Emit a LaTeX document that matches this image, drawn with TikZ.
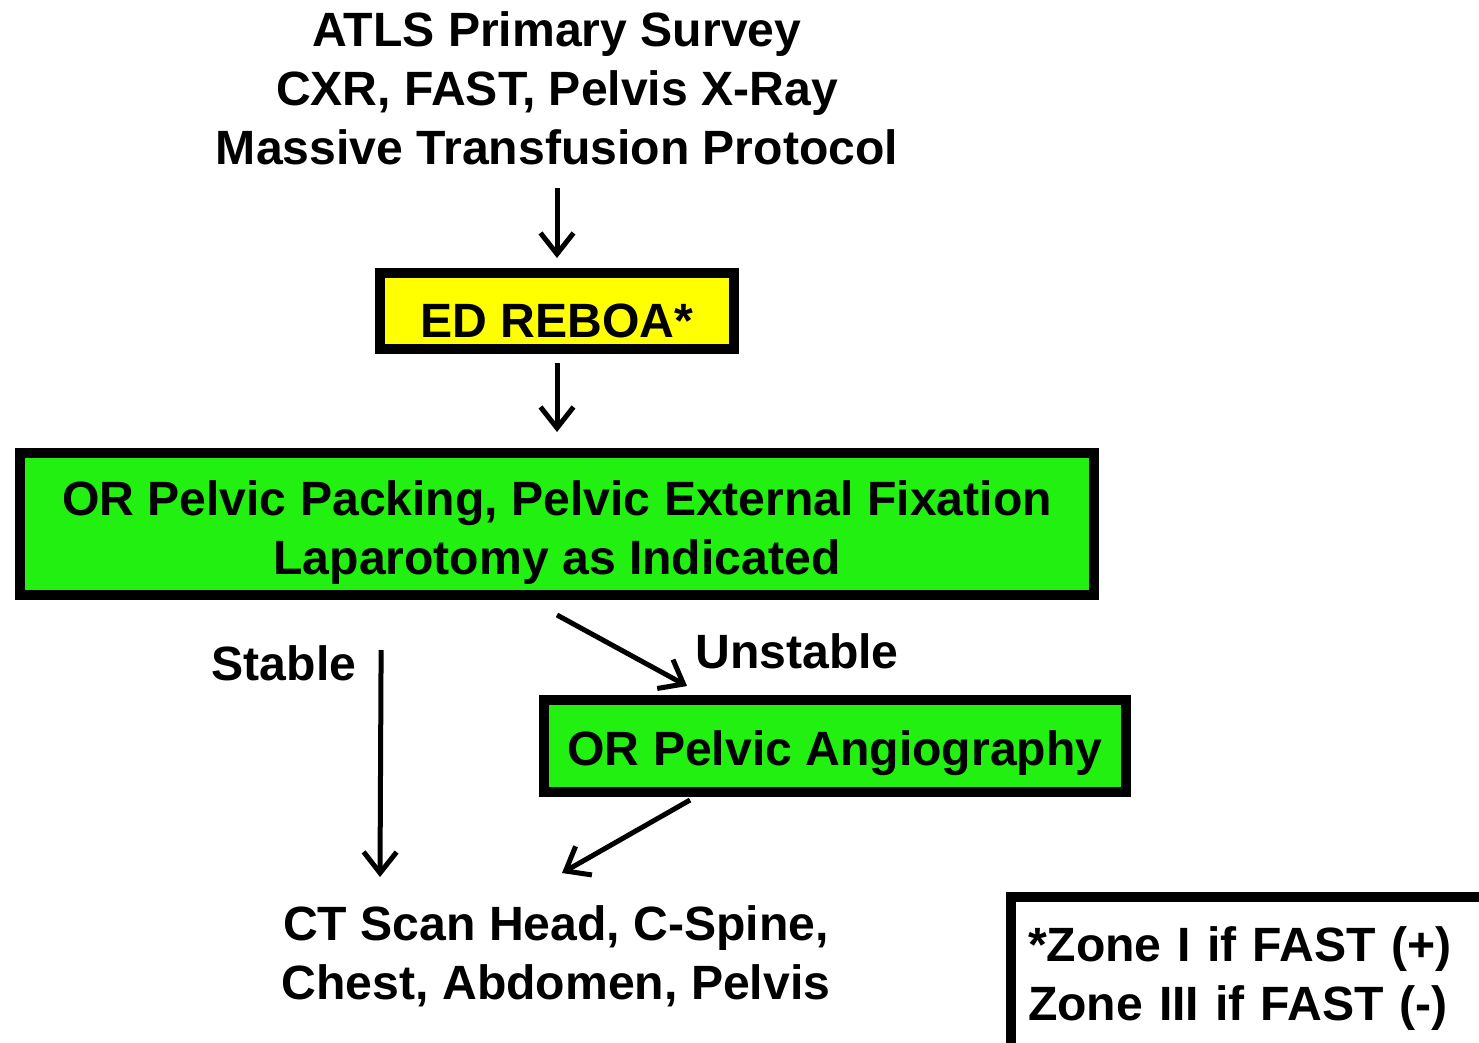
\documentclass[tikz,border=0pt]{standalone}
\usepackage{fontspec}
\setmainfont{Liberation Sans}
\usetikzlibrary{arrows.meta,calc,positioning}
\definecolor{rebyellow}{RGB}{255,255,0}
\definecolor{orgreen}{RGB}{34,240,16}

\begin{document}
\begin{tikzpicture}[%
    x=0.02cm, y=-0.02cm,     % one unit is one pixel, y runs downwards
    >={Straight Barb[length=0.42cm,width=0.66cm]}, % open arrow heads
    ]
% -------------------------------------------------
% Box and line styles
\tikzset{
  base/.style={align=center, font=\fontsize{27.4}{33.5}\selectfont\bfseries},
  box/.style={base, draw, line width=0.2cm, inner sep=0pt, outer sep=0pt, text depth=0pt},
  txt/.style={base, inner sep=0pt},
  norm/.style={->, draw, line width=0.1cm},
}
\useasboundingbox (0,0) rectangle (1479,1042);
\clip (0,0) rectangle (1479,1042);
% -------------------------------------------------
% Start by placing the nodes
\node [txt] (survey) at (557,88) {ATLS Primary Survey\\CXR, FAST, Pelvis X-Ray\\Massive Transfusion Protocol};
\node [box, fill=rebyellow, minimum width=7.08cm, minimum height=1.52cm, text height=1.04cm] (reboa) at (557,311) {ED REBOA*};
\node [box, fill=orgreen, minimum width=21.48cm, minimum height=2.84cm, text height=2cm] (or) at (557,524) {OR Pelvic Packing, Pelvic External Fixation\\Laparotomy as Indicated};
\node [box, fill=orgreen, minimum width=11.64cm, minimum height=1.84cm, text height=0.76cm] (angio) at (835,746) {OR Pelvic Angiography};
\node [txt] (stable) at (284,663) {Stable};
\node [txt] (unstable) at (797,651) {Unstable};
\node [txt] (ct) at (556,956) {CT Scan Head, C-Spine,\\Chest, Abdomen, Pelvis};
\node [box, fill=white, anchor=north west, align=left, text width=9cm,
  inner xsep=0.34cm, inner ysep=0.59cm, text depth=3cm] (zones) at (1011,897)
  {*Zone I if FAST (+)\\Zone III if FAST (-)};

% Connectors
\draw [norm] ($(survey.center)+(0,100)$) -- ($(reboa.north)+(0,-15)$);
\draw [norm] ($(reboa.south)+(0,14)$) -- ($(or.north)+(0,-21)$);
\draw [norm] ($(or.south)+(0,20)$) -- ($(angio.north west)+(143,-14)$);	% unstable
\draw [norm] ($(or.south west)+(361,55)$) -- ($(ct.center)+(-176,-79)$);	% stable
\draw [norm] ($(angio.south west)+(146,8)$) -- ($(ct.center)+(6,-83)$);

% -------------------------------------------------
\end{tikzpicture}
\end{document}
